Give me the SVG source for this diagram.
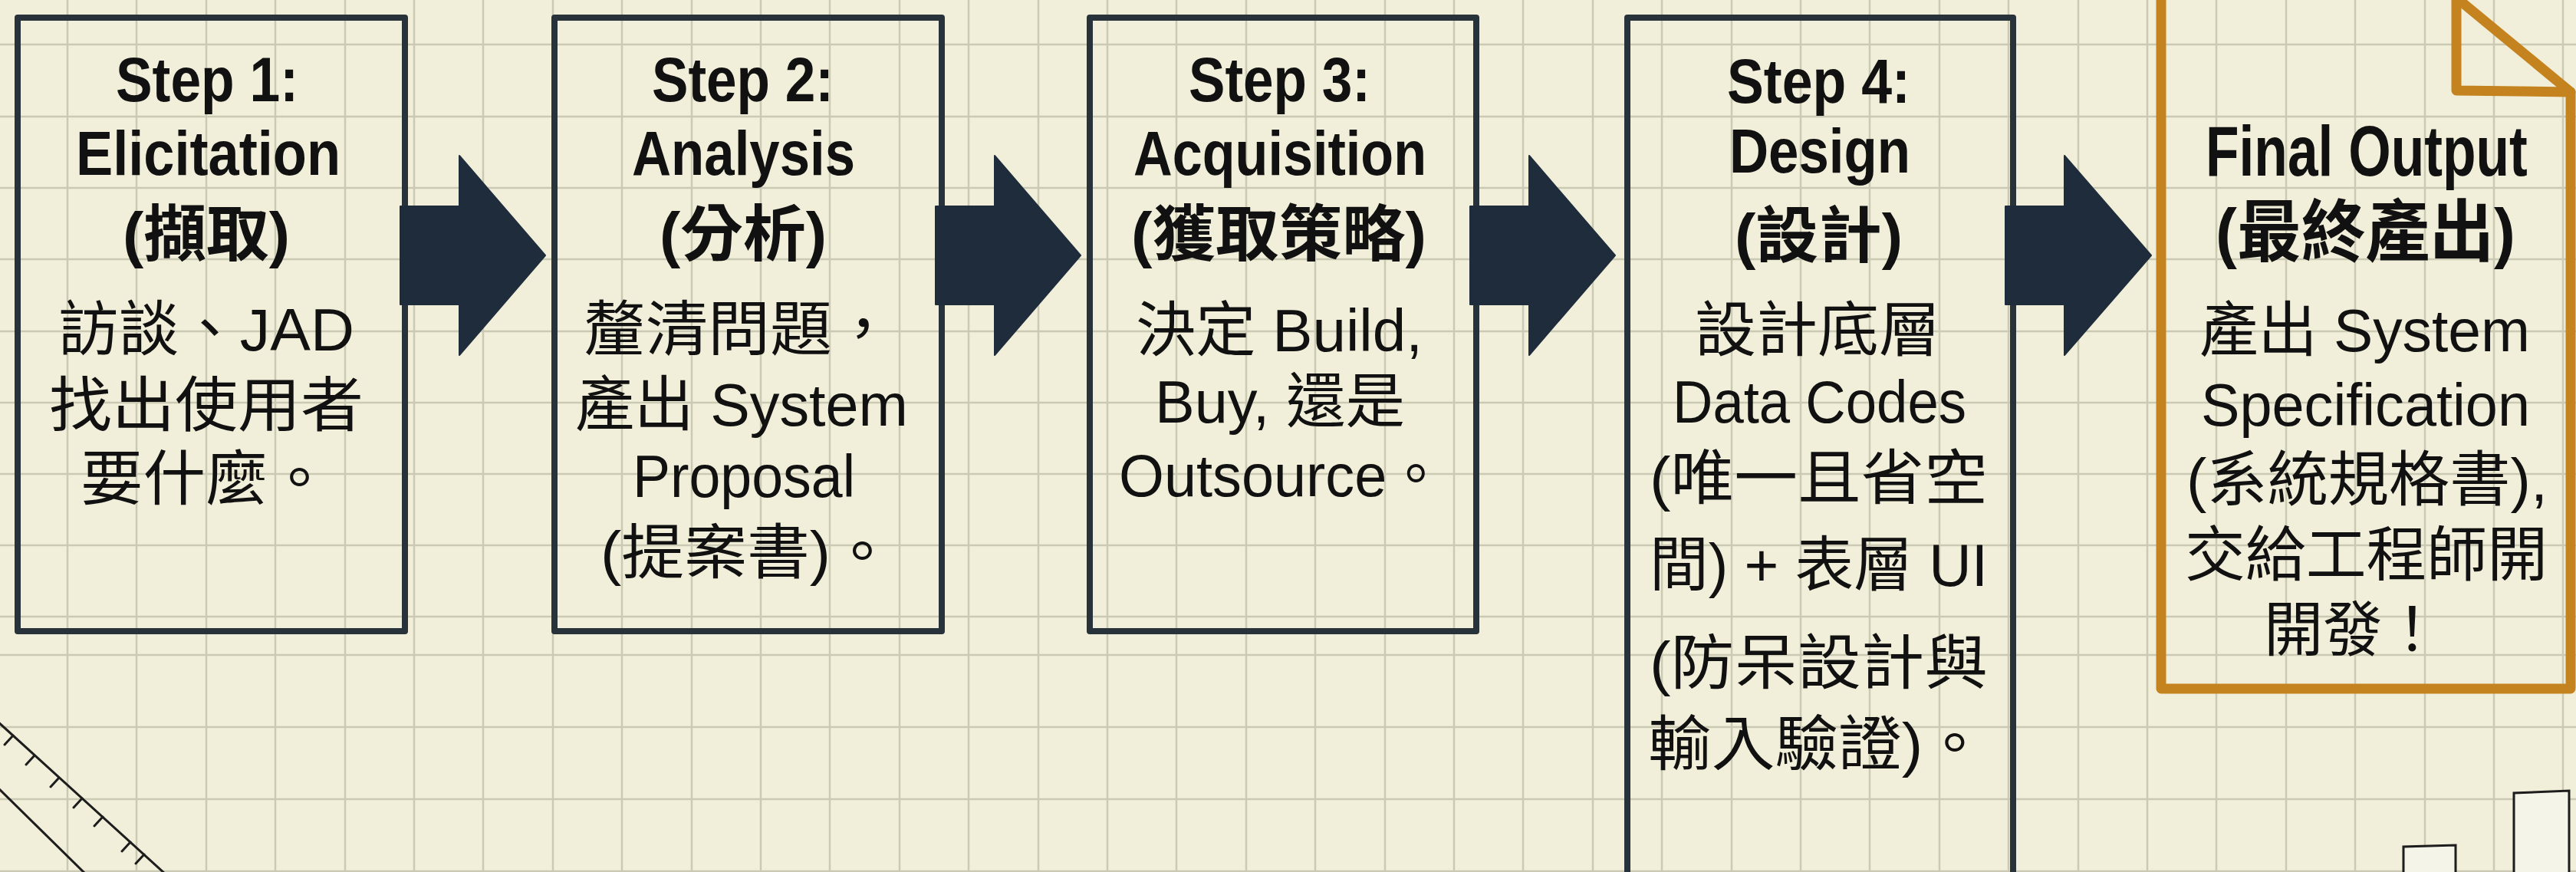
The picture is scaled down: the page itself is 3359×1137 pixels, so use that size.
<svg xmlns="http://www.w3.org/2000/svg" width="3359" height="1137" viewBox="0 0 3359 1137">
<defs>
<style>
.bg{fill:#f1efd9}
.grid line{stroke:#cbc9b3;stroke-width:2.5}
.box{fill:none;stroke:#27323a;stroke-width:8;stroke-linejoin:round}
.arrow{fill:#1f2c3b;stroke:#1f2c3b;stroke-width:2;stroke-linejoin:round}
.doc{fill:none;stroke:#c4831e;stroke-width:13;stroke-linejoin:round;stroke-linecap:round}
text{font-family:'Liberation Sans','Noto Sans CJK TC',sans-serif;fill:#111}
.h{font-weight:700;font-size:82px}
.hc{font-weight:700;font-size:80px}
.b{font-size:78px}
.fh{font-weight:700;font-size:92px}
.fhc{font-weight:700;font-size:88px}
.sk{stroke:#1d1d1d;stroke-width:3;fill:none;stroke-linecap:round}
.skr{stroke:#1d1d1d;stroke-width:3;fill:#f5f4e8}
</style>
</defs>
<rect class="bg" x="0" y="0" width="3359" height="1137"/>
<g class="grid">
<line x1="88" y1="0" x2="88" y2="1137"/><line x1="178" y1="0" x2="178" y2="1137"/><line x1="269" y1="0" x2="269" y2="1137"/><line x1="359" y1="0" x2="359" y2="1137"/><line x1="450" y1="0" x2="450" y2="1137"/><line x1="540" y1="0" x2="540" y2="1137"/><line x1="630" y1="0" x2="630" y2="1137"/><line x1="721" y1="0" x2="721" y2="1137"/><line x1="811" y1="0" x2="811" y2="1137"/><line x1="902" y1="0" x2="902" y2="1137"/><line x1="992" y1="0" x2="992" y2="1137"/><line x1="1082" y1="0" x2="1082" y2="1137"/><line x1="1173" y1="0" x2="1173" y2="1137"/><line x1="1263" y1="0" x2="1263" y2="1137"/><line x1="1354" y1="0" x2="1354" y2="1137"/><line x1="1444" y1="0" x2="1444" y2="1137"/><line x1="1534" y1="0" x2="1534" y2="1137"/><line x1="1625" y1="0" x2="1625" y2="1137"/><line x1="1715" y1="0" x2="1715" y2="1137"/><line x1="1806" y1="0" x2="1806" y2="1137"/><line x1="1896" y1="0" x2="1896" y2="1137"/><line x1="1986" y1="0" x2="1986" y2="1137"/><line x1="2077" y1="0" x2="2077" y2="1137"/><line x1="2167" y1="0" x2="2167" y2="1137"/><line x1="2258" y1="0" x2="2258" y2="1137"/><line x1="2348" y1="0" x2="2348" y2="1137"/><line x1="2438" y1="0" x2="2438" y2="1137"/><line x1="2529" y1="0" x2="2529" y2="1137"/><line x1="2619" y1="0" x2="2619" y2="1137"/><line x1="2710" y1="0" x2="2710" y2="1137"/><line x1="2800" y1="0" x2="2800" y2="1137"/><line x1="2890" y1="0" x2="2890" y2="1137"/><line x1="2981" y1="0" x2="2981" y2="1137"/><line x1="3071" y1="0" x2="3071" y2="1137"/><line x1="3162" y1="0" x2="3162" y2="1137"/><line x1="3252" y1="0" x2="3252" y2="1137"/><line x1="3342" y1="0" x2="3342" y2="1137"/>
<line x1="0" y1="58" x2="3359" y2="58"/><line x1="0" y1="152" x2="3359" y2="152"/><line x1="0" y1="245" x2="3359" y2="245"/><line x1="0" y1="338" x2="3359" y2="338"/><line x1="0" y1="432" x2="3359" y2="432"/><line x1="0" y1="525" x2="3359" y2="525"/><line x1="0" y1="618" x2="3359" y2="618"/><line x1="0" y1="711" x2="3359" y2="711"/><line x1="0" y1="804" x2="3359" y2="804"/><line x1="0" y1="854" x2="3359" y2="854"/><line x1="0" y1="948" x2="3359" y2="948"/><line x1="0" y1="1042" x2="3359" y2="1042"/><line x1="0" y1="1136" x2="3359" y2="1136"/>
</g>
<g id="decor">
<line class="sk" x1="-4" y1="940" x2="216" y2="1140"/>
<line class="sk" x1="-4" y1="1026" x2="112" y2="1140"/>
<path class="sk" d="M17,959 l-11,12 M45,985 l-11,12 M77,1014 l-11,12 M107,1041 l-11,12 M134,1065 l-11,12 M170,1098 l-11,12 M188,1114 l-11,12"/>
<path class="skr" d="M3134,1145 L3134,1104 L3202,1102 L3202,1145"/>
<path class="skr" d="M3278,1145 L3278,1034 L3350,1031 L3350,1145"/>
</g>
<g id="node-step1">
<rect class="box" x="23" y="23" width="505" height="800"/>
<text class="h" x="151" y="132" textLength="238" lengthAdjust="spacingAndGlyphs">Step 1:</text>
<text class="h" x="99" y="228" textLength="345" lengthAdjust="spacingAndGlyphs">Elicitation</text>
<text class="hc" x="160" y="333" textLength="218" lengthAdjust="spacingAndGlyphs">(擷取)</text>
<text class="b" x="76" y="457" textLength="386" lengthAdjust="spacingAndGlyphs">訪談、JAD</text>
<text class="b" x="64" y="556" textLength="410" lengthAdjust="spacingAndGlyphs">找出使用者</text>
<text class="b" x="105" y="652" textLength="326" lengthAdjust="spacingAndGlyphs">要什麼。</text>
</g>
<g id="node-step2">
<rect class="box" x="723" y="23" width="505" height="800"/>
<text class="h" x="850" y="132" textLength="237" lengthAdjust="spacingAndGlyphs">Step 2:</text>
<text class="h" x="824" y="228" textLength="291" lengthAdjust="spacingAndGlyphs">Analysis</text>
<text class="hc" x="860" y="333" textLength="218" lengthAdjust="spacingAndGlyphs">(分析)</text>
<text class="b" x="761" y="457" textLength="405" lengthAdjust="spacingAndGlyphs">釐清問題，</text>
<text class="b" x="750" y="555" textLength="434" lengthAdjust="spacingAndGlyphs">產出 System</text>
<text class="b" x="825" y="648" textLength="290" lengthAdjust="spacingAndGlyphs">Proposal</text>
<text class="b" x="783" y="748" textLength="382" lengthAdjust="spacingAndGlyphs">(提案書)。</text>
</g>
<g id="node-step3">
<rect class="box" x="1421" y="23" width="504" height="800"/>
<text class="h" x="1550" y="132" textLength="237" lengthAdjust="spacingAndGlyphs">Step 3:</text>
<text class="h" x="1478" y="228" textLength="382" lengthAdjust="spacingAndGlyphs">Acquisition</text>
<text class="hc" x="1475" y="333" textLength="385" lengthAdjust="spacingAndGlyphs">(獲取策略)</text>
<text class="b" x="1481" y="458" textLength="374" lengthAdjust="spacingAndGlyphs">決定 Build,</text>
<text class="b" x="1506" y="551" textLength="326" lengthAdjust="spacingAndGlyphs">Buy, 還是</text>
<text class="b" x="1459" y="647" textLength="425" lengthAdjust="spacingAndGlyphs">Outsource。</text>
</g>
<g id="node-step4">
<rect class="box" x="2122" y="23" width="503" height="1140"/>
<text class="h" x="2252" y="134" textLength="239" lengthAdjust="spacingAndGlyphs">Step 4:</text>
<text class="h" x="2255" y="225" textLength="236" lengthAdjust="spacingAndGlyphs">Design</text>
<text class="hc" x="2262" y="335" textLength="219" lengthAdjust="spacingAndGlyphs">(設計)</text>
<text class="b" x="2210" y="458" textLength="320" lengthAdjust="spacingAndGlyphs">設計底層</text>
<text class="b" x="2181" y="551" textLength="383" lengthAdjust="spacingAndGlyphs">Data Codes</text>
<text class="b" x="2151" y="651" textLength="441" lengthAdjust="spacingAndGlyphs">(唯一且省空</text>
<text class="b" x="2151" y="764" textLength="441" lengthAdjust="spacingAndGlyphs">間) + 表層 UI</text>
<text class="b" x="2151" y="892" textLength="441" lengthAdjust="spacingAndGlyphs">(防呆設計與</text>
<text class="b" x="2149" y="998" textLength="441" lengthAdjust="spacingAndGlyphs">輸入驗證)。</text>
</g>
<g id="node-final">
<path class="doc" d="M2818,-30 L2818,898 L3352,898 L3352,120 L3180,-22"/>
<path class="doc" d="M3203,-20 L3203,118 L3352,120"/>
<text class="fh" transform="translate(2876,229) scale(0.775,1)">Final Output</text>
<text class="fhc" x="2889" y="333" textLength="391" lengthAdjust="spacingAndGlyphs">(最終產出)</text>
<text class="b" x="2868" y="458" textLength="431" lengthAdjust="spacingAndGlyphs">產出 System</text>
<text class="b" x="2870" y="555" textLength="429" lengthAdjust="spacingAndGlyphs">Specification</text>
<text class="b" x="2851" y="653" textLength="471" lengthAdjust="spacingAndGlyphs">(系統規格書),</text>
<text class="b" x="2849" y="751" textLength="473" lengthAdjust="spacingAndGlyphs">交給工程師開</text>
<text class="b" x="2952" y="849" textLength="232" lengthAdjust="spacingAndGlyphs">開發！</text>
</g>
<g id="connectors">
<polygon class="arrow" points="522,269 599,269 599,203 711,333 599,463 599,397 522,397"/>
<polygon class="arrow" points="1220,269 1297,269 1297,203 1409,333 1297,463 1297,397 1220,397"/>
<polygon class="arrow" points="1917,269 1994,269 1994,203 2106,333 1994,463 1994,397 1917,397"/>
<polygon class="arrow" points="2615,269 2692,269 2692,203 2805,333 2692,463 2692,397 2615,397"/>
</g>
</svg>
